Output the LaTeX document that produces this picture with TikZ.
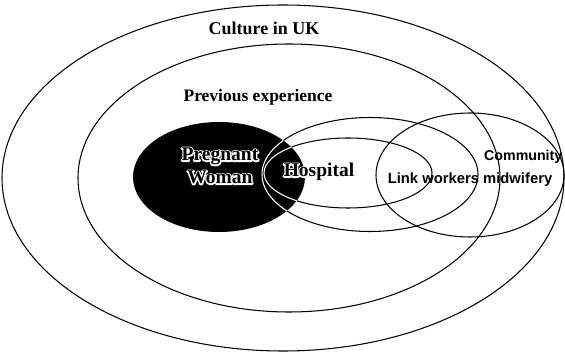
\documentclass[tikz,border=0pt]{standalone}
\usepackage{fontspec}
\setmainfont{Liberation Serif}
\newfontfamily\labelsans{Liberation Sans}
\usetikzlibrary{calc}

% black lettering with a thin white outline, so it stays readable on black
\newcommand\haloword[1]{\leavevmode\rlap{\special{pdf:literal direct 1 1 1 RG 2.8 w 1 j 1 Tr}#1\special{pdf:literal direct 0 Tr 0 0 0 RG}}#1}

\begin{document}
\begin{tikzpicture}[x=1pt,y=-1pt,
  ring/.style={draw=black,line width=1.05pt},
  inring/.style={draw=white,line width=1.05pt},
  bigtitle/.style={font=\bfseries\fontsize{18}{20}\selectfont,inner sep=0pt},
  circletext/.style={font=\bfseries\fontsize{19.5}{23}\selectfont,align=center,inner sep=0pt},
  smalltext/.style={font=\labelsans\bfseries\fontsize{14.8}{16}\selectfont,inner sep=0pt},
]
\useasboundingbox (0,0) rectangle (565,355);

% centres of the regions
\coordinate (uk)   at (283,178);
\coordinate (prev) at (289,178);
\coordinate (wom)  at (219,177);
\coordinate (hosp) at (348,173);
\coordinate (link) at (370,174.5);
\coordinate (comm) at (470,175);

% outline rings
\draw[ring] (uk)   ellipse [x radius=281pt, y radius=173pt];
\draw[ring] (prev) ellipse [x radius=211pt, y radius=134pt];
\draw[ring] (hosp) ellipse [x radius=84pt,  y radius=35pt];
\draw[ring] (link) ellipse [x radius=108pt, y radius=57pt];
\draw[ring] (comm) ellipse [x radius=94pt,  y radius=62pt];

% the filled region and the rings seen through it
\fill[black] (wom) ellipse [x radius=86pt, y radius=55pt];
\begin{scope}
  \clip (wom) ellipse [x radius=86pt, y radius=55pt];
  \draw[inring] (hosp) ellipse [x radius=84pt,  y radius=35pt];
  \draw[inring] (link) ellipse [x radius=108pt, y radius=57pt];
\end{scope}

% labels
\node[bigtitle] (culture) at (264,28) {Culture in UK};
\node[bigtitle,font=\bfseries\fontsize{17.5}{20}\selectfont] (previous) at (258,97) {Previous experience};

\node[circletext] (pregnant) at (220,166) {\haloword{Pregnant}\\\haloword{Woman}};
\node[circletext] (hospital) at (319,172) {\haloword{Hospital}};

\node[smalltext] (linkw) at (470,180) {Link workers midwifery};
\node[smalltext,font=\labelsans\bfseries\fontsize{14.2}{16}\selectfont,anchor=west] (community) at (484,157) {Community};
\end{tikzpicture}
\end{document}
